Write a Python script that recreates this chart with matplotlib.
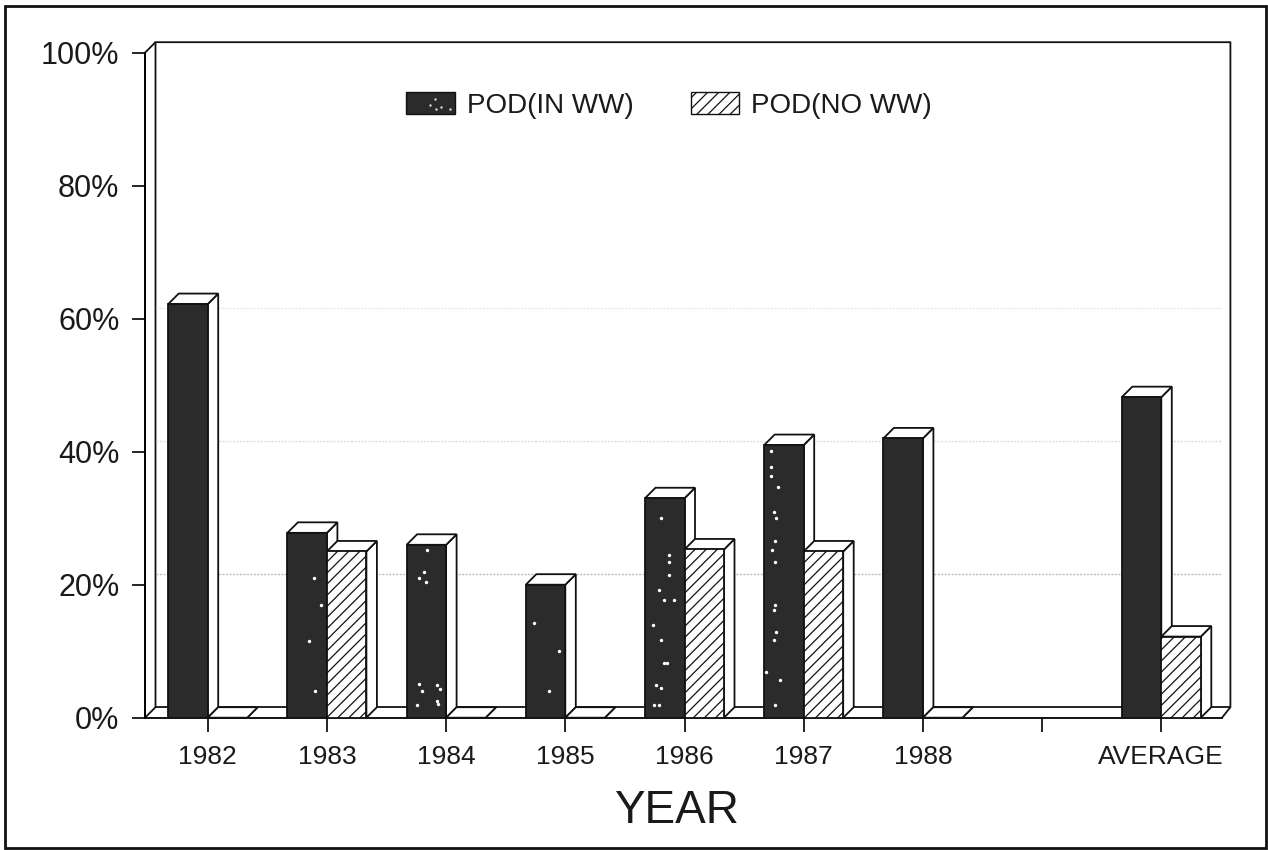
import matplotlib
matplotlib.use("Agg")
import matplotlib.pyplot as plt
from matplotlib.patches import Polygon, Patch, Rectangle

plt.rcParams['font.family'] = ['Liberation Sans', 'DejaVu Sans']
plt.rcParams['hatch.linewidth'] = 0.9

categories = ['1982', '1983', '1984', '1985', '1986', '1987', '1988', '', 'AVERAGE']
pod_in_ww = [62.2, 27.8, 26.0, 20.0, 33.0, 41.0, 42.0, None, 48.2]
pod_no_ww = [0, 25.0, 0, 0, 25.3, 25.0, 0, None, 12.2]
y_ticks = [0, 20, 40, 60, 80, 100]
y_labels = ['0%', '20%', '40%', '60%', '80%', '100%']

# scan specks on the dark bars
speck_x = [3.80, 3.866, 3.874, 3.732, 3.782, 3.824, 3.916, 3.80, 3.824, 3.849, 3.757, 3.80, 3.782, 3.74, 3.866,
           4.727, 4.727, 4.727, 4.786, 4.753, 4.769, 4.761, 4.737, 4.761, 4.761, 4.753, 4.769, 4.685, 4.803,
           4.753, 4.761,
           0.891, 0.95, 0.85, 0.9, 1.84, 1.815, 1.832, 1.77, 1.77, 1.80, 1.92, 1.945, 1.92, 1.93, 1.76,
           2.74, 2.95, 2.86]
speck_y = [30, 24.5, 23.4, 13.9, 19.2, 17.7, 17.7, 11.7, 8.2, 8.2, 4.9, 4.5, 1.9, 1.9, 21.5,
           40.1, 37.7, 36.3, 34.7, 30.9, 30, 26.6, 25.2, 23.4, 16.9, 16.2, 12.9, 6.9, 5.7,
           11.7, 1.9,
           21.0, 17.0, 11.6, 4.0, 25.2, 21.9, 20.4, 21.0, 5.0, 4.0, 4.9, 4.3, 2.5, 2.0, 1.9,
           14.2, 10.1, 4.0]
legend_speck_x = [1.904, 1.862, 1.954, 1.912, 2.029]
legend_speck_y = [93.1, 92.2, 91.8, 91.6, 91.6]

W, H = 1268, 850
fig = plt.figure(figsize=(W / 100, H / 100), dpi=100)
ax = fig.add_axes([145 / W, 1 - 717.7 / H, (1222 - 145) / W, 665 / H])
step = 119.2
ax.set_xlim((145 - 207.7) / step, (1222 - 207.7) / step)
ax.set_ylim(0, 100)

dx = 10.5 / step
dy = 10.5 / 6.65
bar_w = 39.5 / step
xmin, xmax = ax.get_xlim()
edge = 1.3

# back wall and floor
ax.add_patch(Polygon([(xmin, 0), (xmin + dx, dy), (xmin + dx, 100 + dy), (xmin, 100)],
                     fc='white', ec='#111111', lw=edge, clip_on=False, zorder=1))
ax.plot([xmin + dx, xmax + dx * 0.8, xmax + dx * 0.8, xmax], [100 + dy, 100 + dy, dy, 0],
        color='#111111', lw=edge, clip_on=False, zorder=1)
ax.plot([xmin + dx, xmax + dx * 0.8], [dy, dy], color='#111111', lw=edge, zorder=1, clip_on=False)

# faint scan remains of the gridlines
for v, col in [(20, '#bdbdbd'), (40, '#dcdcdc'), (60, '#e8e8e8')]:
    ax.plot([xmin + dx, xmax + dx * 0.8], [v + dy, v + dy], color=col, lw=1, ls=(0, (1.5, 1)), zorder=1)


def draw_bar(x0, value, z, **style):
    x1 = x0 + bar_w
    ax.add_patch(Polygon([(x1, 0), (x1 + dx, dy), (x1 + dx, value + dy), (x1, value)],
                         fc='white', ec='#111111', lw=edge, zorder=z, clip_on=False))
    ax.add_patch(Polygon([(x0, value), (x0 + dx, value + dy), (x1 + dx, value + dy), (x1, value)],
                         fc='white', ec='#111111', lw=edge, zorder=z, clip_on=False))
    if value > 0:
        ax.bar(x0, value, width=bar_w, align='edge', lw=edge, zorder=z + 0.1, **style)


dark_style = dict(color='#2b2b2b', edgecolor='#111111')
hatch_style = dict(facecolor='white', edgecolor='#111111', hatch='///')

z = 3
for i in range(len(categories)):
    if pod_in_ww[i] is None:
        continue
    draw_bar(i - bar_w, pod_in_ww[i], z, **dark_style)
    draw_bar(i, pod_no_ww[i], z + 1, **hatch_style)
    z += 2

ax.scatter(speck_x, speck_y, s=6, color='white', linewidths=0, zorder=z + 1)

# axes
for side in ['top', 'right']:
    ax.spines[side].set_visible(False)
ax.spines['left'].set_linewidth(edge)
ax.spines['bottom'].set_linewidth(edge)
ax.spines['left'].set_zorder(2)
ax.set_yticks(y_ticks)
ax.set_yticklabels(y_labels, fontsize=22, color='#1a1a1a')
ax.set_xticks(range(len(categories)))
ax.set_xticklabels(categories, fontsize=19, color='#1a1a1a')
ax.tick_params(axis='y', length=9.4, width=1.2, pad=9)
ax.tick_params(axis='x', length=10, width=1.2, pad=10)
ax.set_xlabel('YEAR', fontsize=33, color='#1a1a1a', labelpad=14)
ax.xaxis.label.set_x((676 - 145) / (1222 - 145))

# legend
handles = [Patch(facecolor='#2b2b2b', edgecolor='#111111', lw=1),
           Patch(facecolor='white', edgecolor='#111111', lw=1, hatch='///')]
leg = ax.legend(handles, ['POD(IN WW)', 'POD(NO WW)'], ncol=2, frameon=False, fontsize=20,
                loc='upper left', bbox_to_anchor=((406 - 145) / (1222 - 145), (717.7 - 92) / 665),
                borderpad=0, borderaxespad=0, handlelength=1.76, handleheight=0.86,
                handletextpad=0.43, columnspacing=2.05, labelcolor='#1a1a1a')
ax.scatter(legend_speck_x, legend_speck_y, s=3, color='#dddddd', linewidths=0, zorder=z + 2)

# outer frame
fig.add_artist(Rectangle((5 / W, 1 - 848 / H), (1266 - 5) / W, (848 - 6) / H, transform=fig.transFigure,
                         fill=False, ec='#111111', lw=2))

fig.savefig('out.png', dpi=100)
